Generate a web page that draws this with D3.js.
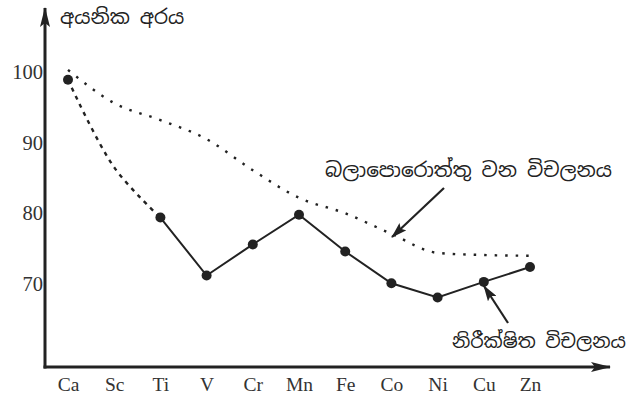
<!DOCTYPE html>
<html>
<head>
<meta charset="utf-8">
<script src="https://cdn.jsdelivr.net/npm/d3@7"></script>
<style>
  html, body { margin: 0; padding: 0; background: #fff; }
  svg { display: block; }
  .sin { font-family: "Noto Sans Sinhala", "Noto Serif Sinhala", "Iskoola Pota", sans-serif; fill: #222; }
</style>
</head>
<body>
<svg id="chart" width="629" height="401"></svg>
<script>
// ---- data ----
const elements = ["Ca", "Sc", "Ti", "V", "Cr", "Mn", "Fe", "Co", "Ni", "Cu", "Zn"];
// observed ionic radii (no point for Sc)
const observed = [98.9, null, 79.4, 71.2, 75.6, 79.8, 74.6, 70.1, 68.1, 70.3, 72.4];
// dashed link Ca -> Sc -> Ti
const linkElements = ["Ca", "Sc", "Ti"];
const linkValues = [98.9, 86.5, 79.4];
// expected (smooth) variation
const expected = [100.3, 95.6, 93.2, 90.5, 86.1, 82.2, 80.0, 77.1, 74.4, 74.1, 74.0];
const yTicks = [70, 80, 90, 100];
const yTitle = "අයනික අරය";
const expectedLabel = "බලාපොරොත්තු වන විචලනය";
const observedLabel = "නිරීක්ෂිත විචලනය";

// ---- layout ----
const svg = d3.select("#chart");
const ink = "#222";
const axisX = 45, axisY = 367;
const serif = "Liberation Serif, Times New Roman, serif";

const x = d3.scalePoint().domain(elements).range([68, 530]);
const y = d3.scaleLinear().domain([70, 100]).range([284, 72]);

const defs = svg.append("defs");
defs.append("marker").attr("id", "ahBig").attr("viewBox", "0 0 20 10")
  .attr("refX", 19).attr("refY", 5).attr("markerWidth", 20).attr("markerHeight", 10)
  .attr("markerUnits", "userSpaceOnUse").attr("orient", "auto")
  .append("path").attr("d", "M0,0 L20,5 L0,10 L4,5 Z").attr("fill", ink);
defs.append("marker").attr("id", "ahAnn").attr("viewBox", "0 0 16 10")
  .attr("refX", 15).attr("refY", 5).attr("markerWidth", 16).attr("markerHeight", 10)
  .attr("markerUnits", "userSpaceOnUse").attr("orient", "auto")
  .append("path").attr("d", "M0,0 L16,5 L0,10 L3,5 Z").attr("fill", ink);

// axes lines
svg.append("line").attr("x1", axisX).attr("y1", axisY + 1.5).attr("x2", axisX).attr("y2", 8)
  .attr("stroke", ink).attr("stroke-width", 3).attr("marker-end", "url(#ahBig)");
svg.append("line").attr("x1", axisX - 1.5).attr("y1", axisY).attr("x2", 610).attr("y2", axisY)
  .attr("stroke", ink).attr("stroke-width", 3).attr("marker-end", "url(#ahBig)");

// y tick labels
const yAxis = svg.append("g").attr("transform", `translate(${axisX - 2},0)`)
  .call(d3.axisLeft(y).tickValues(yTicks).tickSize(0).tickPadding(0));
yAxis.select(".domain").remove();
yAxis.selectAll("text").attr("font-size", 20.5)
  .attr("font-family", serif).attr("fill", "#333");

// x tick labels
const xAxis = svg.append("g").attr("transform", `translate(0,${axisY + 8})`)
  .call(d3.axisBottom(x).tickSize(0).tickPadding(2));
xAxis.select(".domain").remove();
xAxis.selectAll("text").attr("font-size", 19.5)
  .attr("font-family", serif).attr("fill", "#333");

// y title
svg.append("text").attr("class", "sin").attr("x", 60).attr("y", 24)
  .attr("font-size", 20).text(yTitle);

// expected dotted curve
const expLine = d3.line().x((d, i) => x(elements[i])).y(d => y(d)).curve(d3.curveMonotoneX);
svg.append("path").attr("d", expLine(expected)).attr("fill", "none")
  .attr("stroke", ink).attr("stroke-width", 2.4).attr("stroke-dasharray", "2.5,8");

// dashed link Ca->Ti
const linkLine = d3.line().x((d, i) => x(linkElements[i])).y(d => y(d)).curve(d3.curveCatmullRom);
svg.append("path").attr("d", linkLine(linkValues)).attr("fill", "none")
  .attr("stroke", ink).attr("stroke-width", 2.4).attr("stroke-dasharray", "4,5");

// observed solid line (from Ti onward)
const obsPts = elements.map((e, i) => ({ e, v: observed[i] })).filter(d => d.v != null);
const solidPts = obsPts.filter(d => d.e !== "Ca");
svg.append("path").attr("d", d3.line().x(d => x(d.e)).y(d => y(d.v))(solidPts))
  .attr("fill", "none").attr("stroke", ink).attr("stroke-width", 2);
svg.selectAll("circle.pt").data(obsPts).join("circle").attr("class", "pt")
  .attr("cx", d => x(d.e)).attr("cy", d => y(d.v)).attr("r", 5).attr("fill", ink);

// annotations
svg.append("text").attr("class", "sin").attr("x", 612).attr("y", 177)
  .attr("text-anchor", "end").attr("font-size", 20).attr("textLength", 287)
  .attr("lengthAdjust", "spacingAndGlyphs").text(expectedLabel);
svg.append("line").attr("x1", 444).attr("y1", 188).attr("x2", 392).attr("y2", 237)
  .attr("stroke", ink).attr("stroke-width", 2.2).attr("marker-end", "url(#ahAnn)");

svg.append("text").attr("class", "sin").attr("x", 626).attr("y", 348)
  .attr("text-anchor", "end").attr("font-size", 19).text(observedLabel);
svg.append("line").attr("x1", 508).attr("y1", 323).attr("x2", 484).attr("y2", 286)
  .attr("stroke", ink).attr("stroke-width", 2.2).attr("marker-end", "url(#ahAnn)");
</script>
</body>
</html>
